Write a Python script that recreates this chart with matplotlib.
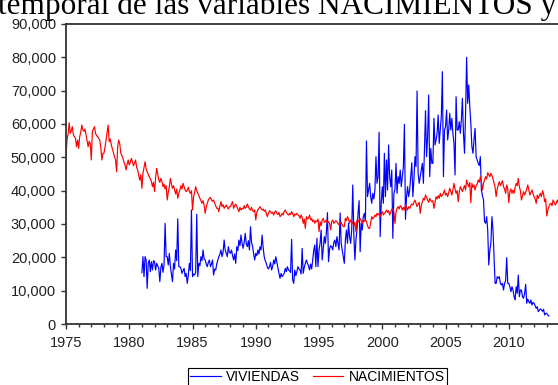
import numpy as np
import matplotlib
matplotlib.use('Agg')
from matplotlib import pyplot as plt
from matplotlib.ticker import MultipleLocator, FuncFormatter

# monthly values, NACIMIENTOS from Jan 1975, VIVIENDAS from Jan 1981
nacimientos = [
    50700, 55200, 57000, 60400, 57200, 58000, 59200, 56700, 56200, 55700, 53200, 55200,  # 1975
    52700, 56200, 57500, 59700, 58200, 57800, 58500, 56700, 55000, 53200, 54800, 54200,  # 1976
    49200, 57700, 58500, 59200, 57200, 56500, 56200, 55700, 55200, 53000, 49200, 51200,  # 1977
    51200, 53000, 55200, 57200, 59700, 54700, 55500, 53700, 52500, 51200, 50200, 49200,  # 1978
    45700, 53200, 55200, 54000, 51200, 50500, 49700, 48500, 47700, 46200, 48000, 49200,  # 1979
    47700, 48500, 49700, 48700, 47500, 48200, 49200, 47000, 46200, 44500, 43200, 44800,  # 1980
    40700, 45200, 47000, 48700, 46500, 45700, 44800, 44200, 43500, 42800, 41200, 42500,  # 1981
    39700, 44000, 46700, 45000, 43200, 42500, 43700, 42800, 41200, 42000, 40500, 41500,  # 1982
    37200, 39500, 41200, 43700, 42000, 40700, 41500, 40200, 39000, 40500, 37700, 39200,  # 1983
    40200, 41500, 40500, 42200, 41200, 40200, 39700, 40200, 41000, 39700, 39200, 40000,  # 1984
    34200, 38200, 39500, 41200, 40000, 39200, 38500, 37700, 37000, 36200, 37000, 35700,  # 1985
    33200, 35000, 36200, 37200, 37700, 38000, 37200, 36800, 37200, 36200, 35500, 34700,  # 1986
    34700, 33700, 35500, 36700, 35200, 35800, 34700, 35200, 35700, 35000, 34500, 35200,  # 1987
    35200, 36000, 36700, 34700, 35500, 36000, 35200, 34500, 33700, 35000, 34200, 34700,  # 1988
    34500, 35500, 34700, 35000, 36000, 35200, 34500, 34200, 35000, 34000, 33700, 34200,  # 1989
    31200, 33500, 34200, 34700, 35200, 34700, 34200, 34500, 33800, 34200, 33200, 32200,  # 1990
    33200, 34000, 33700, 33200, 33500, 32700, 33500, 34000, 33200, 32800, 33500, 32200,  # 1991
    32500, 33200, 32700, 33800, 34200, 33500, 33000, 32700, 33200, 32800, 33700, 33200,  # 1992
    32200, 33000, 32700, 33200, 32700, 32500, 31700, 32700, 32000, 30200, 31500, 28700,  # 1993
    32200, 31500, 31700, 32700, 31200, 31700, 30700, 31200, 30200, 31000, 30700, 31500,  # 1994
    27700, 30700, 29500, 31200, 31700, 30500, 30700, 31200, 30200, 30700, 30200, 28200,  # 1995
    30700, 31200, 30200, 30500, 31000, 30700, 30200, 29700, 30200, 30500, 29700, 29200,  # 1996
    29200, 31700, 31000, 32200, 31500, 30200, 31200, 30700, 30200, 29500, 30500, 27700,  # 1997
    31200, 30500, 31200, 31700, 31000, 30200, 31200, 30800, 31200, 30700, 29500, 28700,  # 1998
    28700, 30500, 32200, 31500, 32000, 32700, 32200, 33200, 32700, 33200, 32200, 33000,  # 1999
    33700, 32700, 33200, 33500, 34200, 33500, 34000, 32700, 33500, 34500, 34200, 33800,  # 2000
    30200, 33500, 34700, 35200, 34500, 35500, 35200, 34200, 35000, 34200, 35700, 35000,  # 2001
    34200, 35200, 34700, 35500, 36000, 35700, 36500, 37200, 36200, 35200, 36000, 36500,  # 2002
    33200, 35500, 36700, 37700, 37200, 38700, 38000, 37200, 36500, 37700, 37000, 36700,  # 2003
    37000, 34700, 36500, 38200, 37500, 38500, 37700, 39200, 38200, 38700, 39200, 40200,  # 2004
    38700, 39200, 38200, 39500, 40700, 39700, 38700, 40200, 42200, 40500, 39200, 40000,  # 2005
    36700, 39500, 41200, 40500, 39700, 40700, 41500, 40200, 43200, 42000, 41200, 42500,  # 2006
    36400, 42200, 41000, 41700, 40200, 41500, 42000, 43200, 42500, 44200, 42700, 40200,  # 2007
    42200, 43200, 44200, 43500, 45400, 44800, 44200, 45200, 44500, 43500, 42200, 41000,  # 2008
    38200, 40500, 41700, 42700, 41500, 42200, 43000, 41200, 40500, 39200, 41700, 40500,  # 2009
    36400, 39700, 40500, 39200, 40200, 39200, 41000, 42200, 41500, 43700, 41200, 40000,  # 2010
    37200, 38500, 39700, 38700, 39500, 40500, 41700, 40200, 38700, 39500, 40200, 39000,  # 2011
    38200, 37500, 36200, 38700, 37700, 38500, 39200, 38200, 40000, 39000, 36700, 37500,  # 2012
    32400, 34200, 35200, 36000, 36200, 35500, 37200, 36500, 35700, 36200, 37200, 36500,  # 2013
]

viviendas = [
    15400, 20200, 14200, 20200, 19200, 10700, 18200, 19200, 15700, 18700, 16200, 19000,  # 1981
    18700, 16200, 18200, 17500, 16700, 12700, 17000, 18200, 15500, 17800, 30200, 20200,  # 1982
    20200, 17700, 21200, 17200, 15000, 12700, 18200, 16500, 22200, 19000, 31600, 17200,  # 1983
    17200, 16700, 15200, 16000, 16700, 14200, 15200, 12200, 14500, 18200, 16000, 34200,  # 1984
    14200, 15000, 14700, 15500, 32900, 14200, 18200, 17500, 20200, 19000, 22200, 19500,  # 1985
    19200, 18000, 17200, 18500, 19200, 17200, 18000, 19200, 14700, 16500, 16200, 18000,  # 1986
    19200, 20200, 21000, 22200, 20200, 21500, 25200, 22200, 21200, 20200, 23200, 21500,  # 1987
    21200, 22200, 20500, 19200, 21000, 18200, 23200, 22000, 25200, 23500, 26700, 24200,  # 1988
    22700, 24500, 27200, 24000, 23200, 25000, 22200, 29200, 24500, 23200, 21000, 19200,  # 1989
    21200, 20500, 22200, 21000, 23200, 22200, 26700, 23000, 20200, 19000, 18200, 17000,  # 1990
    16500, 17200, 18500, 16200, 17200, 19200, 18000, 20200, 18500, 16700, 15200, 13700,  # 1991
    15200, 14200, 14700, 15200, 16700, 15700, 17200, 16200, 16000, 15500, 25400, 13200,  # 1992
    12200, 16200, 14500, 15700, 17200, 16500, 16200, 15000, 22700, 15200, 17000, 18200,  # 1993
    19200, 18200, 17500, 16200, 18000, 16500, 19200, 22200, 23700, 17200, 25700, 17200,  # 1994
    22200, 24200, 28200, 19200, 22500, 26200, 24200, 27700, 33400, 18700, 22500, 23500,  # 1995
    23200, 22200, 24500, 25200, 23200, 26200, 24200, 22200, 33300, 24200, 22200, 20200,  # 1996
    18200, 25200, 28200, 24200, 30200, 26200, 24200, 28200, 41700, 27000, 19200, 25200,  # 1997
    28200, 33200, 37000, 21700, 30200, 28200, 32200, 33200, 31200, 54900, 38200, 40200,  # 1998
    42200, 38200, 36200, 39200, 37500, 40200, 50200, 42200, 44200, 57500, 26200, 36200,  # 1999
    41200, 36200, 51200, 38200, 49200, 40200, 53700, 44200, 41200, 46200, 25700, 39200,  # 2000
    40200, 48200, 39200, 44200, 42200, 46200, 41200, 44200, 47200, 59900, 31400, 38200,  # 2001
    41200, 38200, 40200, 44200, 48400, 38200, 43200, 50200, 47200, 69900, 45200, 42200,  # 2002
    44200, 46200, 48200, 42200, 52200, 64000, 50200, 56200, 68700, 44200, 52700, 48200,  # 2003
    48200, 61700, 53700, 55200, 57200, 62700, 54200, 58200, 62200, 75700, 44200, 58200,  # 2004
    59200, 64200, 55200, 58200, 63200, 58200, 61700, 57200, 54200, 44700, 68200, 58200,  # 2005
    58200, 60700, 57200, 61200, 67700, 57200, 51200, 63200, 80000, 66200, 71700, 65200,  # 2006
    60200, 53200, 51200, 55200, 58700, 50200, 49200, 48200, 47500, 50200, 40200, 38500,  # 2007
    37200, 30700, 30200, 32200, 28200, 17700, 22000, 24200, 32200, 28200, 20200, 12200,  # 2008
    12200, 14200, 13700, 14200, 12200, 11700, 12200, 10200, 12200, 13000, 19900, 12200,  # 2009
    12200, 11200, 9700, 11200, 10200, 8200, 7200, 11200, 9200, 14700, 8200, 10200,  # 2010
    10200, 8200, 7700, 9200, 11900, 6200, 7500, 6700, 6200, 7200, 5700, 6500,  # 2011
    6200, 5500, 4700, 5200, 3700, 4200, 4500, 4200, 3800, 4400, 2700, 3200,  # 2012
    3200, 2700, 2400,  # 2013
]

start_nac = 1975
start_viv = 1981
year_ticks = [1975, 1980, 1985, 1990, 1995, 2000, 2005, 2010]

t_nac = start_nac + np.arange(len(nacimientos)) / 12.0
t_viv = start_viv + np.arange(len(viviendas)) / 12.0

plt.rcParams['font.family'] = ['Liberation Sans', 'DejaVu Sans']

fig = plt.figure(figsize=(5.58, 3.85), dpi=100)
ax = fig.add_axes([66 / 558, 1 - 324 / 385, (559.4 - 66) / 558, 300 / 385])

ax.plot(t_viv, viviendas, color='#0000ff', lw=0.85, label='VIVIENDAS')
ax.plot(t_nac, nacimientos, color='#ff0000', lw=0.85, label='NACIMIENTOS')

ax.set_xlim(1975, 2014)
ax.set_ylim(0, 90000)
ax.set_xticks(year_ticks)
ax.xaxis.set_minor_locator(MultipleLocator(1))
ax.yaxis.set_major_locator(MultipleLocator(10000))
ax.yaxis.set_major_formatter(FuncFormatter(lambda v, p: '{:,.0f}'.format(v)))

for s in ax.spines.values():
    s.set_linewidth(1.3)
    s.set_color('#333333')
ax.tick_params(axis='both', which='major', labelsize=10.5, length=3.6, width=1,
               color='#333333', labelcolor='#222222')
ax.tick_params(axis='y', which='major', pad=3.6)
ax.tick_params(axis='x', which='major', pad=4.8)
ax.tick_params(axis='x', which='minor', length=2.2, width=1, color='#333333')

leg = fig.legend(loc='center', bbox_to_anchor=(317.5 / 558, 1 - 377 / 385), ncol=2,
                 fontsize=10, frameon=True, fancybox=False, framealpha=1,
                 edgecolor='black', handlelength=2.2, handletextpad=0.4,
                 columnspacing=0.9, borderpad=0.15, borderaxespad=0)
leg.get_frame().set_linewidth(0.8)

fig.text(-2 / 558, 1 - 14 / 385, 'temporal de las variables NACIMIENTOS y',
         family=['Liberation Serif', 'DejaVu Serif'], fontsize=22.5,
         ha='left', va='baseline')

fig.savefig('out.png', dpi=100)
